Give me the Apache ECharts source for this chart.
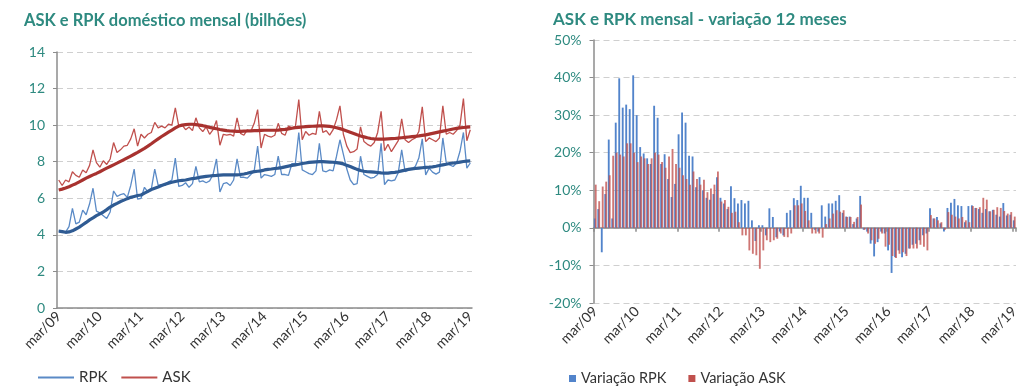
<!DOCTYPE html>
<html>
<head>
<meta charset="utf-8">
<script src="https://cdn.jsdelivr.net/npm/echarts@6/dist/echarts.min.js"></script>
<style>
html,body{margin:0;padding:0;background:#fff;}
#chart{width:1024px;height:390px;}
</style>
</head>
<body>
<div id="chart"></div>
<script>
// Categories: monthly, mar/09 .. mar/19 (121 months)
const monthNames = ['jan','fev','mar','abr','mai','jun','jul','ago','set','out','nov','dez'];
const categories = [];
for (let i = 0; i < 121; i++) {
  const m = (2 + i) % 12;
  const y = 9 + Math.floor((2 + i) / 12);
  categories.push(monthNames[m] + '/' + String(y).padStart(2, '0'));
}

// Left chart: monthly values (billions)
const rpkMonthly = [
  4.2, 4.2, 4.15, 4.45, 5.45, 4.6, 4.7, 5.35, 5.1, 5.7,
  6.55, 5.3, 5.2, 5.05, 4.9, 5.25, 6.4, 6.1, 6.2, 6.25, 6.05, 6.7,
  7.6, 5.95, 6.0, 6.6, 6.35, 6.5, 7.6, 6.7, 6.75, 6.7, 6.9, 7.0,
  8.2, 6.65, 6.7, 6.85, 6.6, 6.8, 7.75, 6.9, 6.95, 6.85, 6.95, 7.3,
  8.15, 6.35, 6.8, 6.85, 6.7, 7.0, 8.15, 7.15, 7.15, 7.1, 7.3, 7.5,
  8.85, 7.1, 7.3, 7.25, 7.2, 7.3, 8.3, 7.3, 7.3, 7.25, 7.9, 7.9,
  9.6, 7.55, 7.45, 7.35, 7.3, 7.5, 9.0, 7.5, 7.45, 7.55, 7.5, 8.3,
  9.2, 8.4, 7.6, 7.0, 6.75, 6.8, 8.3, 7.3, 7.2, 7.1, 7.15, 7.3,
  9.0, 6.75, 7.0, 6.95, 7.0, 7.4, 8.65, 7.45, 7.55, 7.6, 7.75, 8.2,
  9.25, 7.28, 7.65, 7.43, 7.32, 7.43, 9.3, 7.93, 7.83, 7.74, 7.93, 8.57,
  9.6, 7.65, 7.93
];
const askMonthly = [
  7.0, 6.7, 7.0, 6.9, 7.45, 7.25, 7.15, 7.55, 7.4, 7.8,
  8.65, 7.95, 7.7, 8.05, 7.85, 8.15, 9.05, 8.5, 8.65, 8.85, 8.9, 9.25,
  9.8, 8.85, 9.5, 9.3, 9.5, 9.6, 10.15, 9.85, 9.95, 9.85, 10.05, 10.0,
  10.95, 9.95, 10.0, 9.75, 9.9, 9.7, 10.4, 9.85, 9.65, 9.9, 9.5, 9.75,
  10.25, 8.9, 9.5, 9.45, 9.5, 9.4, 10.4, 9.55, 9.45, 9.75, 9.65, 10.1,
  10.85, 8.75, 9.5, 9.4, 9.35, 9.45, 10.1, 9.55, 9.45, 9.95, 9.85, 9.9,
  11.4, 9.2, 9.65, 9.45, 9.55, 9.5, 10.75, 9.6, 9.7, 9.45, 9.75, 10.3,
  11.05, 9.5, 8.85, 8.5, 8.55, 8.7, 9.9, 9.1, 8.95, 8.85, 9.05, 9.6,
  10.75, 8.6, 8.95, 8.55, 8.85, 9.15, 10.35, 9.2, 9.05, 9.2, 9.3, 9.65,
  11.0, 9.1, 9.3, 9.2, 9.1, 9.3, 11.05, 9.5, 9.6, 9.5, 9.7, 10.0,
  11.45, 9.15, 9.75
];
// Left chart: smoothed trend lines (thick)
const rpkTrend = [
  4.20, 4.18, 4.14, 4.16, 4.22, 4.32, 4.42, 4.55, 4.68, 4.82, 4.93, 5.05,
  5.15, 5.25, 5.38, 5.52, 5.63, 5.72, 5.82, 5.90, 5.98, 6.05, 6.10, 6.15,
  6.18, 6.28, 6.38, 6.48, 6.55, 6.62, 6.70, 6.77, 6.83, 6.88, 6.92, 6.96,
  6.98, 7.00, 7.04, 7.08, 7.10, 7.14, 7.17, 7.20, 7.22, 7.24, 7.25, 7.27,
  7.28, 7.28, 7.28, 7.28, 7.28, 7.30, 7.33, 7.37, 7.42, 7.46, 7.48, 7.50,
  7.55, 7.58, 7.60, 7.63, 7.65, 7.68, 7.72, 7.76, 7.80, 7.83, 7.86, 7.90,
  7.93, 7.96, 7.98, 7.99, 8.00, 8.00, 7.99, 7.98, 7.97, 7.95, 7.92, 7.88,
  7.80, 7.74, 7.66, 7.58, 7.52, 7.48, 7.45, 7.44, 7.43, 7.41, 7.39, 7.38,
  7.38, 7.40, 7.42, 7.45, 7.50, 7.54, 7.58, 7.61, 7.63, 7.65, 7.67, 7.69,
  7.70, 7.72, 7.75, 7.79, 7.83, 7.86, 7.90, 7.93, 7.95, 7.98, 8.01, 8.03,
  8.05
];
const askTrend = [
  6.45, 6.50, 6.56, 6.63, 6.72, 6.80, 6.90, 7.00, 7.10, 7.19, 7.28, 7.36,
  7.45, 7.55, 7.65, 7.74, 7.83, 7.92, 8.02, 8.11, 8.21, 8.31, 8.41, 8.51,
  8.62, 8.73, 8.85, 8.98, 9.12, 9.25, 9.38, 9.50, 9.62, 9.73, 9.85, 9.95,
  10.00, 10.03, 10.05, 10.05, 10.03, 10.00, 9.97, 9.93, 9.88, 9.84, 9.80, 9.76,
  9.73, 9.70, 9.68, 9.67, 9.66, 9.66, 9.67, 9.68, 9.69, 9.70, 9.70, 9.71,
  9.72, 9.72, 9.72, 9.72, 9.73, 9.75, 9.77, 9.80, 9.83, 9.86, 9.88, 9.90,
  9.92, 9.93, 9.94, 9.95, 9.96, 9.96, 9.95, 9.93, 9.90, 9.86, 9.81, 9.75,
  9.68, 9.61, 9.54, 9.47, 9.41, 9.36, 9.31, 9.27, 9.25, 9.24, 9.24, 9.24,
  9.25, 9.26, 9.27, 9.29, 9.31, 9.33, 9.35, 9.37, 9.39, 9.41, 9.44, 9.47,
  9.51, 9.55, 9.59, 9.63, 9.67, 9.71, 9.75, 9.79, 9.82, 9.85, 9.87, 9.89,
  9.90
];

// Right chart: 12-month variation (%)
const rpkVar = [
  2.5, 5.0, -6.5, 9.0, 23.5, 2.5, 28.0, 39.8, 32.0, 32.8,
  31.6, 40.6, 30.0, 21.5, 19.8, 18.5, 17.0, 32.5, 29.3, 17.0, 19.6, 13.0,
  8.2, 11.7, 24.9, 30.7, 28.0, 19.2, 19.0, 10.8, 13.5, 10.0, 8.0, 7.5,
  9.0, 13.5, 8.0, 6.5, 5.0, 11.1, 7.9, 6.5, 7.4, 6.5, 7.2, 2.0,
  -3.5, 0.7, 0.7, -2.0, 5.2, 2.9, -2.5, -1.0, -2.0, 4.0, 4.7, 7.9,
  7.4, 11.2, 8.0, 8.0, 4.0, -0.5, -1.0, 6.0, 3.0, 6.5, 6.5, 7.2,
  8.7, 4.0, 3.0, 3.0, 1.0, 2.5, 8.5, -0.5, -1.0, -4.2, -7.6, -3.8,
  -1.0, -1.5, -6.0, -12.0, -7.8, -6.0, -7.8, -6.9, -5.5, -4.5, -4.2, -3.3,
  -2.0, -1.5, 5.2, 2.5, 2.9, 1.2, -1.0, 5.3, 6.7, 7.7, 6.0, 5.8,
  1.5, 5.8, 6.0, 5.3, 5.0, 4.0, 5.0, 4.4, 4.8, 3.5, 3.0, 6.6,
  3.3, 3.5, 2.0
];
const askVar = [
  11.5, 7.1, 11.0, 12.3, 14.0, 19.2, 20.0, 19.5, 19.0, 22.5,
  22.5, 20.0, 17.5, 19.0, 18.5, 17.0, 18.5, 20.0, 19.5, 17.5, 16.0, 19.0,
  21.0, 17.0, 16.0, 14.0, 13.0, 11.5, 15.0, 13.0, 11.5, 12.8, 9.5, 10.5,
  11.5, 15.0, 7.0, 7.4, 5.6, 4.0, 4.3, 1.5, -2.0, -2.0, -6.0, -6.9,
  -7.3, -10.9, -6.0, -3.3, -3.8, -3.3, -2.9, -1.5, -2.4, -2.5, -1.5, 6.0,
  6.0, 6.5, 4.5, 2.0, -1.5, -1.5, -1.5, -2.6, 1.0, 2.5, 3.8, 4.7,
  4.3, 4.7, 2.9, 2.9, 1.6, 2.9, 6.2, -0.5, -1.5, -3.3, -4.2, -2.9,
  -1.5, -5.0, -4.5, -7.5, -8.0, -6.9, -6.5, -7.5, -5.5, -5.5, -5.5, -4.5,
  -5.0, -6.0, 3.4, 2.5, 2.0, 1.5, -0.5, 4.2, 3.5, 3.0, 2.5, 2.9,
  2.0, 1.5, 5.8, 5.3, 5.5, 8.0, 7.5, 4.4, 4.8, 5.5, 5.3, 4.5,
  3.8, 4.2, 3.0
];

const leftYTicks = {min: 0, max: 14, interval: 2};
const rightYTicks = {min: -20, max: 50, interval: 10};

const FONT = 'Lato';
const TEAL = '#2E8A80';
const AXIS = '#8C8C8C';
const GRIDC = '#CFCFCF';

const chart = echarts.init(document.getElementById('chart'), null, {renderer: 'canvas'});

const xLabel = {
  interval: 11, rotate: 45, fontSize: 14, color: '#333', fontFamily: FONT, margin: 6
};

chart.setOption({
  animation: false,
  backgroundColor: '#fff',
  textStyle: {fontFamily: FONT},
  title: [
    {text: 'ASK e RPK doméstico mensal (bilhões)', left: 19, top: 7,
     textStyle: {fontFamily: FONT, fontWeight: 'bold', fontSize: 16.5, color: TEAL}},
    {text: 'ASK e RPK mensal - variação 12 meses', left: 548, top: 6,
     textStyle: {fontFamily: FONT, fontWeight: 'bold', fontSize: 17, color: TEAL}}
  ],
  legend: [
    {left: 33, top: 365, itemWidth: 36, itemHeight: 2, itemGap: 14,
     textStyle: {fontFamily: FONT, fontSize: 15, color: '#333'},
     data: [{name: 'RPK', icon: 'rect'}, {name: 'ASK', icon: 'rect'}]},
    {left: 564, top: 366, itemWidth: 7, itemHeight: 7, itemGap: 22,
     textStyle: {fontFamily: FONT, fontSize: 14.5, color: '#333'},
     data: [{name: 'Variação RPK', icon: 'rect'},
            {name: 'Variação ASK', icon: 'rect', itemStyle: {color: '#C0504D', opacity: 1}}]}
  ],
  grid: [
    {left: 57, top: 52, width: 415, height: 256},
    {left: 593.5, top: 40, width: 422.5, height: 263}
  ],
  xAxis: [
    {gridIndex: 0, type: 'category', data: categories, boundaryGap: true, position: 'bottom',
     axisLine: {lineStyle: {color: AXIS, width: 1.5}},
     axisTick: {interval: 11, length: 5, lineStyle: {color: AXIS, width: 1.5}},
     axisLabel: xLabel, splitLine: {show: false}},
    {gridIndex: 1, type: 'category', data: categories, boundaryGap: true, position: 'bottom',
     axisLine: {show: false, onZero: false}, axisTick: {show: false},
     axisLabel: xLabel, splitLine: {show: false}},
    {gridIndex: 1, type: 'category', data: categories, boundaryGap: true, position: 'bottom',
     axisLine: {show: true, onZero: true, lineStyle: {color: AXIS, width: 1.5}},
     axisTick: {show: true, interval: 11, length: 4, lineStyle: {color: AXIS, width: 1.5}},
     axisLabel: {show: false}, splitLine: {show: false}}
  ],
  yAxis: [
    {gridIndex: 0, type: 'value', min: leftYTicks.min, max: leftYTicks.max, interval: leftYTicks.interval,
     axisLine: {show: true, lineStyle: {color: AXIS, width: 1.5}},
     axisTick: {show: true, length: 4, lineStyle: {color: AXIS}},
     axisLabel: {fontSize: 14, color: TEAL, fontFamily: FONT, margin: 12},
     splitLine: {show: true, lineStyle: {color: GRIDC, type: [6, 4], width: 1}}},
    {gridIndex: 1, type: 'value', min: rightYTicks.min, max: rightYTicks.max, interval: rightYTicks.interval,
     axisLine: {show: true, lineStyle: {color: AXIS, width: 1.5}},
     axisTick: {show: true, length: 4, lineStyle: {color: AXIS}},
     axisLabel: {fontSize: 14, color: TEAL, fontFamily: FONT, margin: 12, formatter: '{value}%'},
     splitLine: {show: true, lineStyle: {color: GRIDC, type: [6, 4], width: 1}}}
  ],
  series: [
    {name: 'RPK', type: 'line', xAxisIndex: 0, yAxisIndex: 0, data: rpkMonthly,
     symbol: 'none', lineStyle: {width: 1.3, color: '#5A8AC6'}, itemStyle: {color: '#5A8AC6'}},
    {name: 'ASK', type: 'line', xAxisIndex: 0, yAxisIndex: 0, data: askMonthly,
     symbol: 'none', lineStyle: {width: 1.3, color: '#C0504D'}, itemStyle: {color: '#C0504D'}},
    {name: 'RPK tendência', type: 'line', xAxisIndex: 0, yAxisIndex: 0, data: rpkTrend,
     symbol: 'none', lineStyle: {width: 3.2, color: '#2F5B93'}, itemStyle: {color: '#2F5B93'}},
    {name: 'ASK tendência', type: 'line', xAxisIndex: 0, yAxisIndex: 0, data: askTrend,
     symbol: 'none', lineStyle: {width: 3.2, color: '#A8322F'}, itemStyle: {color: '#A8322F'}},
    {name: 'Variação RPK', type: 'bar', xAxisIndex: 1, yAxisIndex: 1, data: rpkVar,
     barGap: '-50%', barCategoryGap: '20%', itemStyle: {color: '#5284CB'}},
    {name: 'Variação ASK', type: 'bar', xAxisIndex: 1, yAxisIndex: 1, data: askVar,
     barGap: '-50%', barCategoryGap: '20%', itemStyle: {color: '#C0504D', opacity: 0.78}}
  ]
});
</script>
</body>
</html>
